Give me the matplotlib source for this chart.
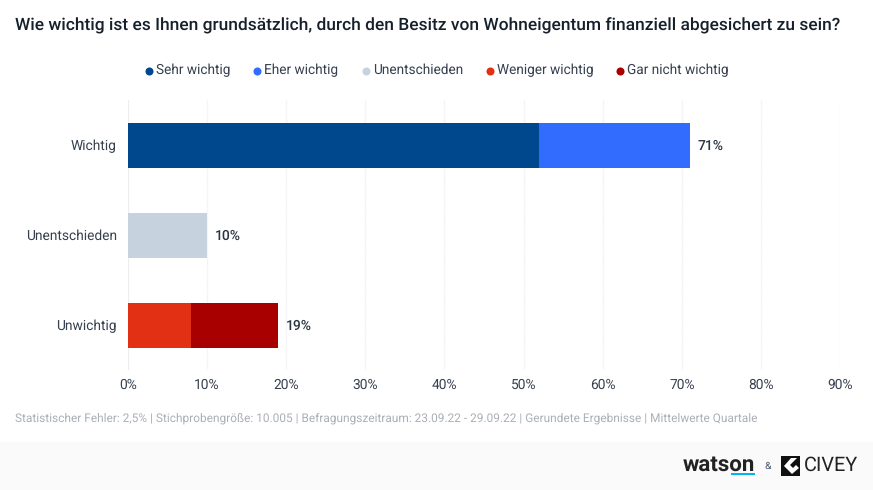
import matplotlib
matplotlib.use("Agg")
import matplotlib.pyplot as plt
from matplotlib.patches import Rectangle, Polygon

plt.rcParams['font.family'] = ['Roboto', 'DejaVu Sans']
plt.rcParams['text.hinting'] = 'no_hinting'

categories = ["Wichtig", "Unentschieden", "Unwichtig"]
series_names = ["Sehr wichtig", "Eher wichtig", "Unentschieden", "Weniger wichtig", "Gar nicht wichtig"]
sehr_wichtig = [52, 0, 0]
eher_wichtig = [19, 0, 0]
unentschieden = [0, 10, 0]
weniger_wichtig = [0, 0, 8]
gar_nicht_wichtig = [0, 0, 11]
totals = [71, 10, 19]
xticks = [0, 10, 20, 30, 40, 50, 60, 70, 80, 90]
colors = ["#00488d", "#316cff", "#c6d3de", "#e23014", "#a80000"]

title = "Wie wichtig ist es Ihnen grundsätzlich, durch den Besitz von Wohneigentum finanziell abgesichert zu sein?"
footnote = ("Statistischer Fehler: 2,5% | Stichprobengröße: 10.005 | Befragungszeitraum: 23.09.22 - 29.09.22 | "
            "Gerundete Ergebnisse | Mittelwerte Quartale")

W, H = 873, 490
TEXT = "#36404e"


def fx(px):
    return px / W


def fy(py):
    return 1 - py / H


fig = plt.figure(figsize=(W / 100, H / 100), dpi=100)
ax = fig.add_axes([fx(128), fy(370), (840 - 128) / W, 270 / H])

all_series = [sehr_wichtig, eher_wichtig, unentschieden, weniger_wichtig, gar_nicht_wichtig]
left = [0, 0, 0]
for vals, col in zip(all_series, colors):
    ax.barh(categories, vals, left=left, height=0.5, color=col, edgecolor="none", zorder=3)
    left = [a + b for a, b in zip(left, vals)]

for i, t in enumerate(totals):
    ax.text(t + 0.95, i + 0.012, f"{t}%", va="center", ha="left", fontsize=10, color="#2a3442", fontweight="medium")

ax.set_xlim(0, 90)
ax.set_ylim(2.5, -0.5)
ax.set_xticks(xticks)
ax.set_xticklabels([f"{x}%" for x in xticks], fontsize=9.95, color=TEXT)
ax.tick_params(axis="x", length=0, pad=6)
ax.tick_params(axis="y", length=0, pad=8, labelsize=9.95, labelcolor=TEXT)
ax.grid(axis="x", color="#f0f0f0", linewidth=1, linestyle=(0, (1, 0.6)), zorder=0)
ax.axvline(0, color="#e8e8e8", linewidth=1.2, zorder=1)
for s in ax.spines.values():
    s.set_visible(False)

fig.text(fx(15), fy(26), title, fontsize=12.47, fontweight="medium", color="#16202c", va="center", ha="left")

# legend placed by hand
marker_x = [149, 257, 366, 490, 620]
text_x = [156, 264, 373, 497, 627]
for name, col, mx, tx in zip(series_names, colors, marker_x, text_x):
    fig.add_artist(plt.Line2D([fx(mx)], [fy(70.5)], marker="o", markersize=5.8, color=col,
                              markeredgecolor="none", linestyle="none", transform=fig.transFigure))
    fig.text(fx(tx), fy(70), name, fontsize=9.85, color=TEXT, va="center", ha="left")

fig.text(fx(15), fy(418), footnote, fontsize=8.55, color="#aab0b7", va="center", ha="left")

# footer band and logos
fig.add_artist(Rectangle((0, 0), 1, fy(442), transform=fig.transFigure, facecolor="#fafafa", edgecolor="none", zorder=-1))
fig.text(fx(683), fy(465), "watson", fontsize=16, fontweight="bold", color="#222222", va="center", ha="left")
fig.add_artist(Rectangle((fx(731), fy(475)), 24 / W, 2 / H, transform=fig.transFigure, facecolor="#00b4f0", edgecolor="none"))
fig.text(fx(768), fy(466), "&", fontsize=7.5, color="#4a5a70", va="center", ha="center")
fig.add_artist(Rectangle((fx(781), fy(476)), 19 / W, 20 / H, transform=fig.transFigure, facecolor="#111111", edgecolor="none"))
chevron = [(784, 466), (791, 458), (797, 458), (790, 465), (793, 468), (796, 465), (799, 468), (792, 474)]
fig.add_artist(Polygon([(fx(a), fy(b)) for a, b in chevron], transform=fig.transFigure, facecolor="white", edgecolor="none"))
fig.text(fx(804), fy(465.5), "CIVEY", fontsize=14.3, color="#222222", va="center", ha="left")

fig.savefig("out.png", dpi=100)
